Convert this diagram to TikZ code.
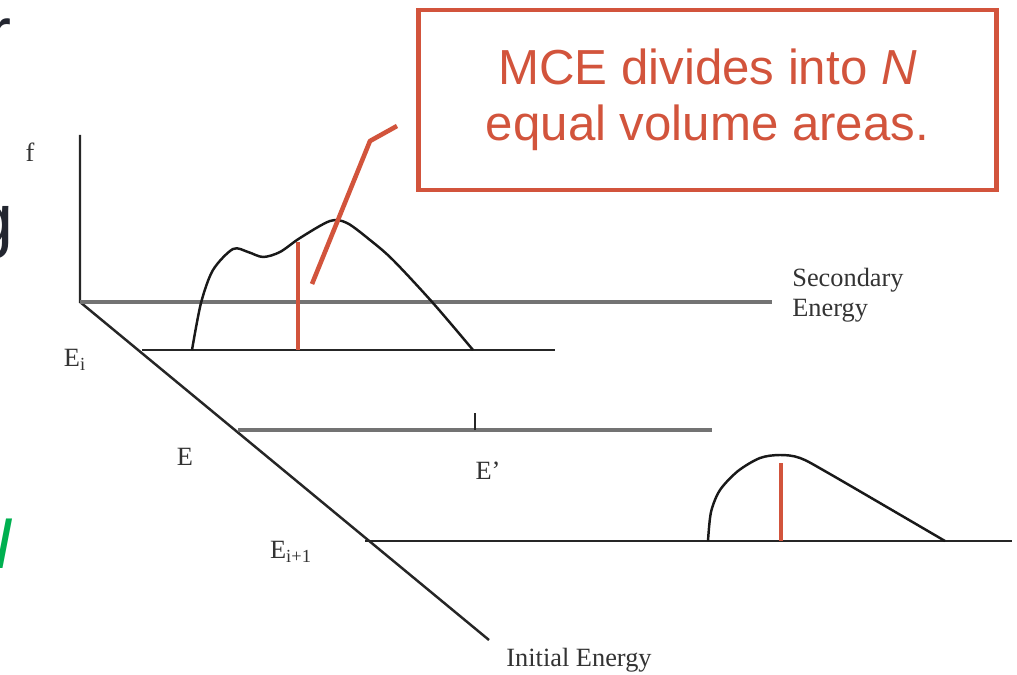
\documentclass[tikz,border=0pt]{standalone}
\usepackage{fontspec}
\setmainfont{Liberation Serif}
\newfontfamily\slidefont{Liberation Sans}
\usepackage{tikz}
\usetikzlibrary{positioning}
\definecolor{callout}{RGB}{210,84,60}
\definecolor{slidegreen}{RGB}{0,176,80}
\definecolor{slidetext}{RGB}{35,38,48}
\tikzset{
    axis/.style={draw=black!85, line width=1.4pt},
    axisgray/.style={draw=black!55, line width=1.9pt},
    curve/.style={draw=black!90, line width=1.4pt},
    marker/.style={draw=callout, line width=2.8pt},
    leader/.style={draw=callout, line width=2.6pt, line join=round},
    calloutbox/.style={rectangle, draw=callout, line width=2.8pt, minimum width=11.58cm, minimum height=3.6cm, align=center, text=callout, font=\slidefont\fontsize{28}{32}\selectfont},
    lbl/.style={text=black!80, font=\fontsize{15}{17}\selectfont, inner sep=0pt},
    cut/.style={font=\slidefont\fontsize{41}{45}\selectfont, inner sep=0pt}
}

\begin{document}
\begin{tikzpicture}[x=0.02cm, y=-0.02cm]
        \useasboundingbox (0,0) rectangle (1017,675);

        % slide text cut off at the left edge
        \node [cut, text=slidetext, anchor=base east] (cutr) at (12,58) {r};
        \node [cut, text=slidetext, anchor=base east] (cutg) at (14,245) {g};
        \node [cut, text=slidegreen, anchor=base east] (cutn) at (13,568) {\textit{N}};

        \coordinate (O) at (80,302);
        \coordinate (ftop) at (80,135);
        \coordinate (sec) at (772,302);
        \coordinate (init) at (489,640);
        \coordinate (ei0) at (142,350);
        \coordinate (ei1) at (555,350);
        \coordinate (e0) at (238,430);
        \coordinate (e1) at (712,430);
        \coordinate (ej0) at (365,541);
        \coordinate (ej1) at (1012,541);
        \coordinate (tick) at (475,430);
        \coordinate (ticktop) at (475,413);

        \node [lbl] (flbl) at (30,152) {f};
        \node [lbl, anchor=north west, align=left] (seclbl) at (792,268) {Secondary\\Energy};
        \node [lbl] (initlbl) at (579,660) {Initial Energy};
        \node [lbl] (eilbl) at (75,360) {E\textsubscript{i}};
        \node [lbl] (elbl) at (185,457) {E};
        \node [lbl] (eplbl) at (488,471) {E'};
        \node [lbl] (ejlbl) at (291,552) {E\textsubscript{i+1}};

        \node [calloutbox] (note) at (707.5,100) {MCE divides into \textit{N}\\equal volume areas.};
        \coordinate (lead0) at (312,284);
        \coordinate (lead1) at (370,141);
        \coordinate (lead2) at (397,126);

        % Draws
        \draw [axis] (ftop) -- (O) -- (init);
        \draw [axisgray] (O) -- (sec);
        \draw [axis] (ei0) -- (ei1);
        \draw [axisgray] (e0) -- (e1);
        \draw [axis] (tick) -- (ticktop);
        \draw [axis] (ej0) -- (ej1);

        \draw [curve] plot [smooth] coordinates {(192,350) (201,303) (213,270) (233,249) (248,252) (263,257) (280,252) (300,238) (330,221) (347,223) (370,240) (393,260) (433,303) (473,350)};
        \draw [curve] plot [smooth] coordinates {(708,541) (711,512) (720,490) (738,471) (760,458) (780,455) (800,458) (830,474) (945,541)};

        \draw [marker] (298,242) -- (298,350);
        \draw [marker] (781,463) -- (781,541);
        \draw [leader] (lead0) -- (lead1) -- (lead2);

    \end{tikzpicture}
\end{document}
